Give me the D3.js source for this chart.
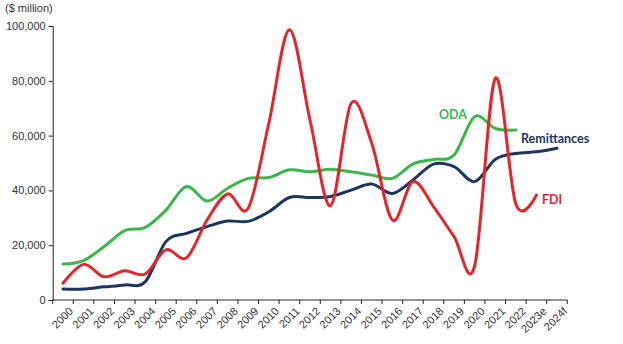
<!DOCTYPE html>
<html><head><meta charset="utf-8">
<script src="https://cdn.jsdelivr.net/npm/d3@7"></script>
<style>body{margin:0;background:#fff;} svg{display:block;}</style>
</head><body>
<svg id="c" width="623" height="344"></svg>
<script>
const years = ["2000","2001","2002","2003","2004","2005","2006","2007","2008","2009","2010","2011","2012","2013","2014","2015","2016","2017","2018","2019","2020","2021","2022","2023e","2024f"];
const remittances = [4000,4000,4800,5500,6700,21300,24300,26800,28800,28700,32200,37400,37400,37800,40100,42300,38900,43800,49600,48700,43200,51300,53500,54100,55400];
const oda = [13100,14400,19500,25300,26500,32800,41400,36100,40800,44400,44700,47500,46800,47700,46800,45600,44400,49600,51300,52900,66900,62600,62000];
const fdi = [6100,13000,8500,10700,9500,18300,15400,29200,38700,33500,64500,98600,65700,34400,71800,57200,29200,43200,34100,23100,12500,80900,35000,38300];
const yTicks = [0,20000,40000,60000,80000,100000];

const svg = d3.select("#c");
const x = d3.scaleBand().domain(years).range([52.7, 567.3]).paddingInner(0).paddingOuter(0);
const y = d3.scaleLinear().domain([0, 100000]).range([300, 26]);
const cx = d => x(d) + x.bandwidth()/2;

// y axis
const ya = svg.append("g").attr("transform","translate(52.7,0)")
  .call(d3.axisLeft(y).tickValues(yTicks).tickSize(4).tickFormat(d3.format(",")));
ya.select(".domain").attr("stroke","#222").attr("stroke-width",1);
ya.selectAll(".tick line").attr("stroke","#222");
ya.selectAll("text").attr("font-family","Liberation Sans, Arial, sans-serif").attr("font-size","11px").attr("fill","#333").attr("x",-7);

// x axis
const xa = svg.append("g").attr("transform","translate(0,300)");
xa.append("line").attr("x1",x.range()[0]).attr("x2",x.range()[1]).attr("stroke","#222");
const bounds = years.map(d=>x(d)).concat([x.range()[1]]);
xa.selectAll("line.tk").data(bounds).join("line").attr("class","tk")
  .attr("x1",d=>d).attr("x2",d=>d).attr("y1",0).attr("y2",4).attr("stroke","#222");
xa.selectAll("text").data(years).join("text")
  .attr("transform",d=>`translate(${cx(d)+5},${6}) rotate(-45)`)
  .attr("text-anchor","end").attr("dy","0.75em")
  .attr("font-family","Liberation Sans, Arial, sans-serif").attr("font-size","11px").attr("fill","#333")
  .text(d=>d);

svg.append("text").attr("x",5).attr("y",12).attr("font-family","Liberation Sans, Arial, sans-serif")
  .attr("font-size","11px").attr("fill","#333").text("($ million)");

const line = d3.line().x((d,i)=>cx(years[i])).y(d=>y(d)).curve(d3.curveCatmullRom.alpha(0));
const series = [
  {vals: oda, color:"#3cb54b"},
  {vals: remittances, color:"#1c3663"},
  {vals: fdi, color:"#e5252c"}
];
series.forEach(s=>{
  svg.append("path").datum(s.vals).attr("d",line).attr("fill","none")
    .attr("stroke",s.color).attr("stroke-width",3).attr("stroke-linecap","round").attr("stroke-linejoin","round");
});

const lab = (t,xx,yy,c)=>svg.append("text").attr("x",xx).attr("y",yy).attr("font-family","Lato, sans-serif")
  .attr("font-weight","bold").attr("font-size","12.5px").attr("fill",c).text(t);
lab("ODA",439,119,"#3cb54b");
lab("Remittances",521,143,"#1c3663");
lab("FDI",542,204,"#e5252c");
</script>
</body></html>
